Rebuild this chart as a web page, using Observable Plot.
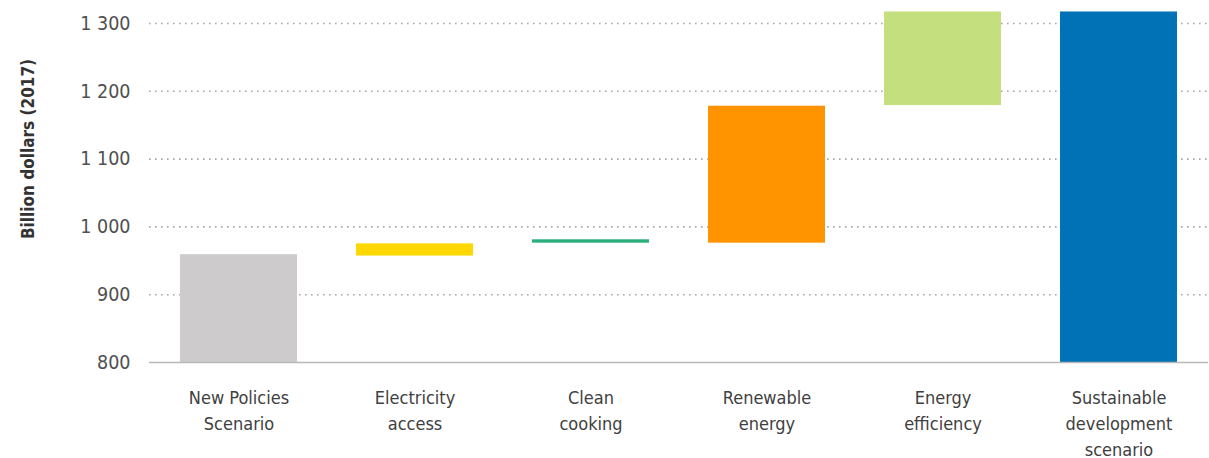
<!DOCTYPE html>
<html>
<head>
<meta charset="utf-8">
<script src="https://cdn.jsdelivr.net/npm/d3@7"></script>
<script src="https://cdn.jsdelivr.net/npm/@observablehq/plot@0.6"></script>
<style>
  html, body { margin: 0; padding: 0; background: #fff; overflow: hidden; }
  #chart svg { display: block; }
</style>
</head>
<body>
<div id="chart"></div>
<script>
// Categories (labels with line breaks)
const categories = [
  "New Policies\nScenario",
  "Electricity\naccess",
  "Clean\ncooking",
  "Renewable\nenergy",
  "Energy\nefficiency",
  "Sustainable\ndevelopment\nscenario"
];
// Bar bottoms and tops, billion dollars (2017)
const lows  = [800, 957, 976, 976, 1179, 800];
const highs = [959, 975, 981, 1178, 1317, 1317];
const colors = ["#cdcbcc", "#ffd700", "#2bb07c", "#ff9300", "#c3df7e", "#0072b5"];
const yTicks = [800, 900, 1000, 1100, 1200, 1300];
const yTitle = "Billion dollars (2017)";

const data = categories.map((c, i) => ({ cat: c, lo: lows[i], hi: highs[i], color: colors[i] }));

const fmt = d3.formatLocale({ decimal: ".", thousands: " ", grouping: [3], currency: ["", ""] }).format(",");
const FONT = "'DejaVu Sans Condensed', 'DejaVu Sans', sans-serif";

const chart = Plot.plot({
  width: 1209,
  height: 458,
  marginLeft: 149,
  marginRight: 1,
  marginTop: 23,
  marginBottom: 96,
  style: { fontFamily: FONT, fontStretch: "condensed", background: "#fff", overflow: "visible" },
  x: { type: "band", domain: categories, paddingInner: 0.335, paddingOuter: 0.174, label: null },
  y: { domain: [800, 1300], label: null },
  marks: [
    Plot.ruleY(yTicks.filter(d => d > 800), { stroke: "#a8a8a8", strokeWidth: 1.6, strokeDasharray: "1.6,4.4" }),
    Plot.barY(data, { x: "cat", y1: "lo", y2: "hi", fill: "color", clip: false }),
    Plot.ruleY([800], { stroke: "#b8b8b8", strokeWidth: 1.5 }),
    Plot.axisY({ ticks: yTicks, tickSize: 0, tickPadding: 19, tickFormat: fmt, fontSize: 19.5, color: "#505050", label: null }),
    Plot.axisX({ tickSize: 0, tickPadding: 23, fontSize: 18, lineHeight: 1.45, color: "#404040", label: null }),
    Plot.text([yTitle], { frameAnchor: "left", dx: -121, dy: -44, rotate: -90, textAnchor: "middle", fontSize: 17, fontWeight: "bold", fill: "#333" })
  ]
});
document.getElementById("chart").appendChild(chart);
</script>
</body>
</html>
